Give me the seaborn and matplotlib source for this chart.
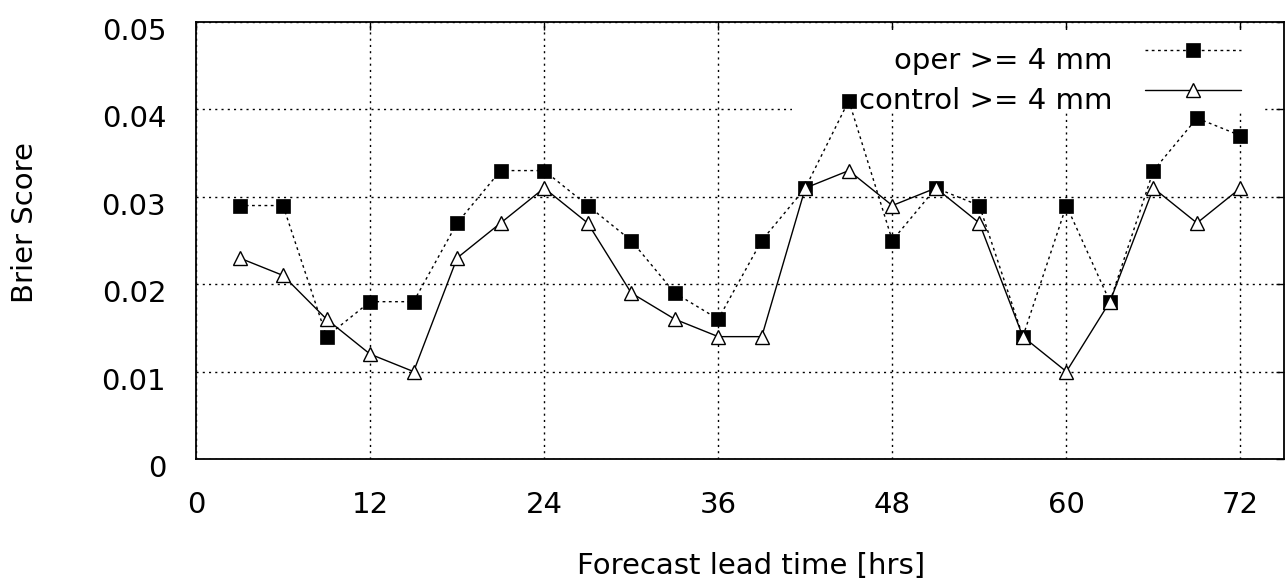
import numpy as np
import pandas as pd
import matplotlib
matplotlib.use("Agg")
import matplotlib.pyplot as plt
import seaborn as sns
from matplotlib.lines import Line2D
from matplotlib.legend_handler import HandlerLine2D
from matplotlib.patches import Rectangle
from matplotlib.transforms import ScaledTranslation

# Brier score of the >= 4 mm precipitation forecasts by lead time
lead_hours = [3, 6, 9, 12, 15, 18, 21, 24, 27, 30, 33, 36,
              39, 42, 45, 48, 51, 54, 57, 60, 63, 66, 69, 72]
oper_bs = [0.029, 0.029, 0.014, 0.018, 0.018, 0.027, 0.033, 0.033,
           0.029, 0.025, 0.019, 0.016, 0.025, 0.031, 0.041, 0.025,
           0.031, 0.029, 0.014, 0.029, 0.018, 0.033, 0.039, 0.037]
control_bs = [0.023, 0.021, 0.016, 0.012, 0.010, 0.023, 0.027, 0.031,
              0.027, 0.019, 0.016, 0.014, 0.014, 0.031, 0.033, 0.029,
              0.031, 0.027, 0.014, 0.010, 0.018, 0.031, 0.027, 0.031]
series_labels = ["oper >= 4 mm", "control >= 4 mm"]
x_ticks = [0, 12, 24, 36, 48, 60, 72]
y_ticks = [0.0, 0.01, 0.02, 0.03, 0.04, 0.05]
y_tick_labels = ["0", "0.01", "0.02", "0.03", "0.04", "0.05"]

df = pd.DataFrame({
    "lead": lead_hours * 2,
    "bs": oper_bs + control_bs,
    "series": [series_labels[0]] * len(lead_hours) + [series_labels[1]] * len(lead_hours),
})

sns.set_style("white")
plt.rcParams["font.family"] = ["DejaVu Sans"]
plt.rcParams["text.color"] = "black"
plt.rcParams["axes.labelcolor"] = "black"
FS = 21

W, H = 1287, 584
fig = plt.figure(figsize=(W / 100, H / 100), dpi=100)
ax = fig.add_axes([196 / W, 1 - 459 / H, 1088 / W, 437 / H])

sns.lineplot(data=df[df["series"] == series_labels[0]], x="lead", y="bs", ax=ax,
             color="black", linestyle=(0, (2, 2.5)), linewidth=1.0,
             marker="s", markersize=9.5, markerfacecolor="black",
             markeredgecolor="black", markeredgewidth=0.5,
             label=series_labels[0], zorder=3)
sns.lineplot(data=df[df["series"] == series_labels[1]], x="lead", y="bs", ax=ax,
             color="black", linestyle="-", linewidth=1.0,
             marker="^", markersize=10, markerfacecolor="white",
             markeredgecolor="black", markeredgewidth=1.0,
             label=series_labels[1], zorder=4)

ax.set_xlim(0, 75)
ax.set_ylim(0, 0.05)
ax.set_xticks(x_ticks)
ax.set_yticks(y_ticks, labels=y_tick_labels)

ax.set_axisbelow(True)
ax.grid(True, color="black", linewidth=1.0, linestyle=(0, (1.5, 3)))
for s in ax.spines.values():
    s.set_visible(True)
    s.set_color("black")
    s.set_linewidth(1.3)

ax.tick_params(direction="in", length=6, width=1, top=True, right=True,
               labelsize=FS, colors="black", labelcolor="black")
ax.tick_params(axis="x", pad=23)
ax.tick_params(axis="y", pad=21.5)
for t in ax.yaxis.get_major_ticks():
    t.label1.set_transform(t.label1.get_transform()
                           + ScaledTranslation(0, -5 / 72, fig.dpi_scale_trans))

ax.set_xlabel("Forecast lead time [hrs]", fontsize=FS, color="black")
ax.set_ylabel("Brier Score", fontsize=FS, color="black")
ax.xaxis.set_label_coords(0.51, -0.245)
ax.xaxis.label.set_va("center")
ax.yaxis.set_label_coords(-0.157, 0.542)
ax.yaxis.label.set_va("center")

# blank area behind the key so the grid does not run through it
ax.add_patch(Rectangle((0.548, 0.792), 0.432, 0.19, transform=ax.transAxes,
                       facecolor="white", edgecolor="none", zorder=0.8))


class RaisedLine(HandlerLine2D):
    """Key sample drawn a little above the text centre."""
    def create_artists(self, legend, orig_handle, xdescent, ydescent,
                       width, height, fontsize, trans):
        arts = super().create_artists(legend, orig_handle, xdescent, ydescent,
                                      width, height, fontsize, trans)
        for a in arts:
            a.set_ydata(np.asarray(a.get_ydata(), dtype=float) + 0.3 * fontsize)
        return arts


handles, labels = ax.get_legend_handles_labels()
leg = ax.legend(handles, labels, loc="upper right", bbox_to_anchor=(0.9605, 0.943),
                frameon=False, borderpad=0, borderaxespad=0, handlelength=3.3,
                handletextpad=1.1, labelspacing=0.40, markerfirst=False,
                fontsize=FS, labelcolor="black", handler_map={Line2D: RaisedLine()})
leg.set_zorder(1)

fig.savefig("out.png", dpi=100, facecolor="white")
